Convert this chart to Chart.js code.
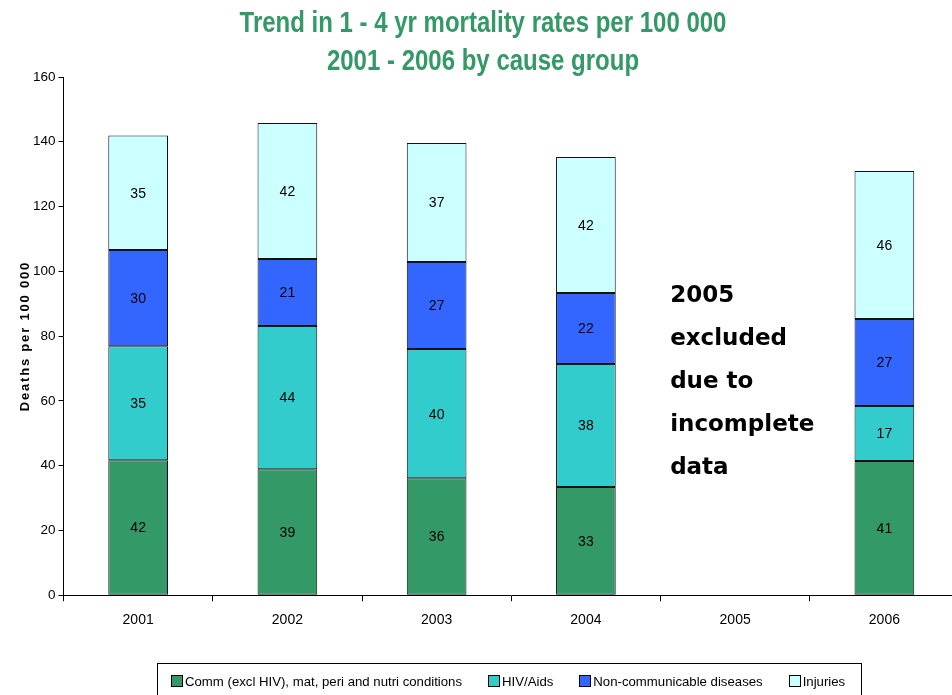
<!DOCTYPE html>
<html>
<head>
<meta charset="utf-8">
<script src="https://cdn.jsdelivr.net/npm/chart.js@4.4.1/dist/chart.umd.min.js"></script>
<style>
    html, body { margin: 0; padding: 0; background: #fff; overflow: hidden; }
    #wrap { width: 960px; height: 702px; }
</style>
</head>
<body>
<div id="wrap"><canvas id="mortalityChart"></canvas></div>
<script>
// data (2005 has no data)
const years = ["2001", "2002", "2003", "2004", "2005", "2006"];
const commValues = [41.7, 38.9, 36.1, 33.4, null, 41.4];
const hivValues = [35.2, 44.2, 39.9, 38.0, null, 17.0];
const ncdValues = [29.7, 20.7, 26.9, 21.9, null, 26.9];
const injuryValues = [35.3, 42.0, 36.7, 42.0, null, 45.7];
const yTicks = [0, 20, 40, 60, 80, 100, 120, 140, 160];

const seriesNames = ["Comm (excl HIV), mat, peri and nutri conditions", "HIV/Aids", "Non-communicable diseases", "Injuries"];
const seriesColors = ["#339966", "#33CCCC", "#3366FF", "#CCFFFF"];
const titleLines = ["Trend in 1 - 4 yr mortality rates per 100 000", "2001 - 2006 by cause group"];
const noteLines = ["2005", "excluded", "due to", "incomplete", "data"];

const FONT = "'Liberation Sans', Arial, sans-serif";

// numbers in the middle of each bar segment
const segmentLabels = {
    id: "segmentLabels",
    afterDatasetsDraw(chart) {
        const ctx = chart.ctx;
        ctx.save();
        ctx.font = "14px " + FONT;
        ctx.fillStyle = "#000";
        ctx.textAlign = "center";
        ctx.textBaseline = "middle";
        chart.data.datasets.forEach((ds, i) => {
            chart.getDatasetMeta(i).data.forEach((bar, j) => {
                if (ds.data[j] == null) return;
                ctx.fillText(Math.round(ds.data[j]), bar.x, (bar.y + bar.base) / 2 + 1);
            });
        });
        ctx.restore();
    }
};

// title (condensed), y title with letter spacing, note text and boxed legend
const extras = {
    id: "extras",
    afterDraw(chart) {
        const ctx = chart.ctx;
        const area = chart.chartArea;
        const x = chart.scales.x;

        ctx.save();
        ctx.font = "bold 30px " + FONT;
        ctx.fillStyle = "#339966";
        ctx.textAlign = "center";
        ctx.textBaseline = "alphabetic";
        ctx.translate(483, 0);
        ctx.scale(0.8, 1);
        ctx.fillText(titleLines[0], 0, 32);
        ctx.fillText(titleLines[1], 0, 70);
        ctx.restore();

        ctx.save();
        ctx.translate(25, (area.top + area.bottom) / 2);
        ctx.rotate(-Math.PI / 2);
        ctx.font = "bold 13px " + FONT;
        ctx.letterSpacing = "1.8px";
        ctx.fillStyle = "#000";
        ctx.textAlign = "center";
        ctx.textBaseline = "middle";
        ctx.fillText("Deaths per 100 000", 0, 0);
        ctx.restore();

        ctx.save();
        ctx.font = "bold 23px 'DejaVu Sans', Verdana, sans-serif";
        ctx.fillStyle = "#000";
        ctx.textBaseline = "alphabetic";
        const noteX = x.getPixelForValue(4) - 65;
        noteLines.forEach((t, i) => ctx.fillText(t, noteX, 302 + i * 43));
        ctx.restore();

        // legend
        ctx.save();
        ctx.font = "13.2px " + FONT;
        ctx.textBaseline = "middle";
        const box = 11, gapText = 3, gapItem = 26;
        let lx = 171;
        const ly = 681;
        ctx.strokeStyle = "#000";
        ctx.lineWidth = 1;
        ctx.strokeRect(157.5, 663.5, 704, 40);
        seriesNames.forEach((n, i) => {
            ctx.fillStyle = seriesColors[i];
            ctx.fillRect(Math.round(lx) + 0.5, ly - 6 + 0.5, box, box);
            ctx.strokeRect(Math.round(lx) + 0.5, ly - 6 + 0.5, box, box);
            ctx.fillStyle = "#000";
            ctx.fillText(n, lx + box + gapText, ly + 1);
            lx += box + gapText + ctx.measureText(n).width + gapItem;
        });
        ctx.restore();
    }
};

const datasets = [commValues, hivValues, ncdValues, injuryValues].map((vals, i) => ({
    label: seriesNames[i],
    data: vals,
    backgroundColor: seriesColors[i],
    borderColor: "#111",
    borderWidth: 1,
    borderSkipped: false,
    barPercentage: 0.4,
    categoryPercentage: 1.0
}));

new Chart(document.getElementById("mortalityChart"), {
    type: "bar",
    data: { labels: years, datasets: datasets },
    plugins: [segmentLabels, extras],
    options: {
        responsive: true,
        maintainAspectRatio: false,
        animation: false,
        layout: { padding: { left: 30, right: 1, top: 77, bottom: 62 } },
        plugins: {
            legend: { display: false },
            tooltip: { enabled: false },
            title: { display: false }
        },
        scales: {
            x: {
                stacked: true,
                grid: { drawOnChartArea: false, color: "#000", tickLength: 6, offset: true },
                border: { color: "#000", width: 1 },
                ticks: { color: "#000", font: { family: FONT, size: 14 }, padding: 11 }
            },
            y: {
                stacked: true,
                min: 0,
                max: 160,
                afterBuildTicks: axis => { axis.ticks = yTicks.map(v => ({ value: v })); },
                grid: { drawOnChartArea: false, color: "#000", tickLength: 5 },
                border: { color: "#000", width: 1 },
                ticks: { color: "#000", font: { family: FONT, size: 13.5 }, padding: 3 }
            }
        }
    }
});
</script>
</body>
</html>
